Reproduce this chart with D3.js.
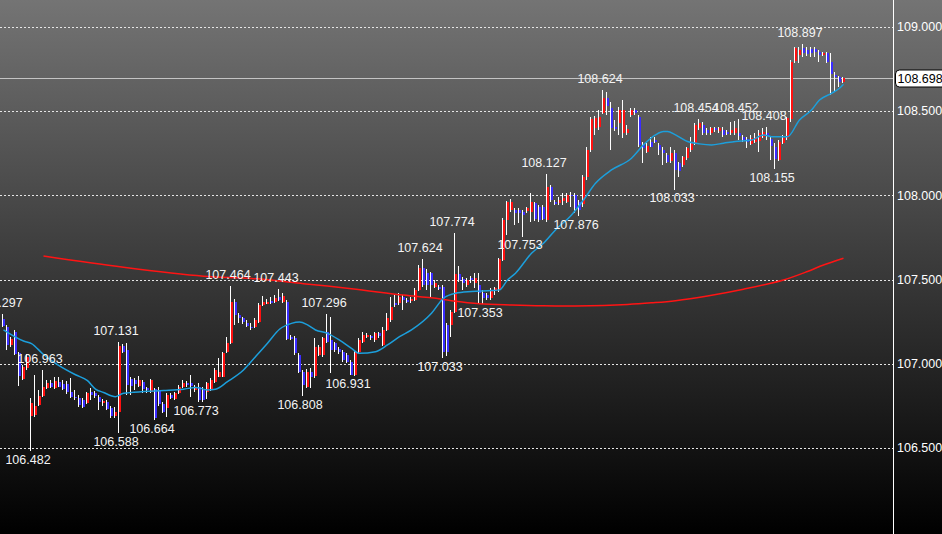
<!DOCTYPE html>
<html><head><meta charset="utf-8">
<script src="https://cdn.jsdelivr.net/npm/d3@7"></script>
<style>html,body{margin:0;padding:0;background:#000;overflow:hidden}</style>
</head><body><svg id="c" width="942" height="534"></svg>
<script>
const open=[107.264,107.221,107.112,107.191,107.062,106.910,106.973,106.690,106.696,106.756,
106.809,106.860,106.888,106.860,106.894,106.878,106.878,106.835,106.805,106.795,
106.785,106.765,106.835,106.825,106.805,106.765,106.775,106.736,106.686,106.716,
107.106,107.082,106.908,106.904,106.868,106.894,106.855,106.835,106.849,106.845,
106.762,106.736,106.815,106.789,106.825,106.860,106.884,106.888,106.845,106.860,
106.845,106.835,106.845,106.894,106.924,106.924,107.066,107.126,107.369,107.290,
107.270,107.244,107.221,107.217,107.250,107.349,107.359,107.373,107.365,107.399,
107.369,107.369,107.161,107.151,107.052,106.953,106.864,106.953,106.924,107.052,
107.052,107.191,107.141,107.122,107.086,107.072,107.052,107.013,106.934,107.072,
107.131,107.161,107.165,107.141,107.181,107.112,107.201,107.260,107.363,107.359,
107.399,107.379,107.369,107.379,107.438,107.567,107.538,107.538,107.454,107.458,
107.458,107.231,107.231,107.310,107.534,107.502,107.468,107.508,107.478,107.468,
107.419,107.409,107.389,107.429,107.439,107.617,107.854,107.914,107.914,107.914,
107.904,107.904,107.904,107.953,107.933,107.933,107.858,108.052,107.963,107.953,
107.963,107.963,108.003,108.003,107.963,107.953,108.111,108.270,108.399,108.409,
108.488,108.577,108.517,108.405,108.428,108.369,108.369,108.478,108.508,108.468,
108.300,108.260,108.320,108.329,108.300,108.270,108.240,108.201,108.250,108.191,
108.181,108.221,108.270,108.310,108.399,108.418,108.389,108.369,108.399,108.379,
108.389,108.379,108.369,108.369,108.369,108.349,108.335,108.305,108.319,108.319,
108.349,108.368,108.333,108.289,108.210,108.309,108.339,108.457,108.794,108.833,
108.873,108.863,108.867,108.867,108.853,108.833,108.847,108.794,108.715,108.705,
108.675];
const high=[107.297,107.231,107.157,107.201,107.072,106.993,107.060,106.795,106.934,106.845,
106.963,106.904,106.904,106.920,106.920,106.905,106.900,106.914,106.844,106.815,
106.795,106.835,106.854,106.840,106.815,106.790,106.785,106.750,106.746,107.131,
107.118,107.122,106.920,106.916,106.928,106.904,106.865,106.908,106.857,106.861,
106.775,106.825,106.825,106.835,106.874,106.904,106.900,106.934,106.874,106.884,
106.861,106.894,106.914,106.973,107.033,107.072,107.161,107.464,107.383,107.304,
107.280,107.260,107.240,107.270,107.359,107.403,107.383,107.395,107.409,107.443,
107.422,107.379,107.171,107.165,107.062,106.963,106.967,106.973,107.151,107.112,
107.161,107.296,107.280,107.131,107.098,107.082,107.062,107.023,107.082,107.151,
107.191,107.181,107.171,107.191,107.191,107.221,107.300,107.399,107.409,107.418,
107.409,107.389,107.399,107.448,107.585,107.624,107.561,107.547,107.498,107.468,
107.468,107.241,107.320,107.774,107.581,107.518,107.508,107.522,107.538,107.538,
107.439,107.419,107.448,107.458,107.627,107.864,107.969,107.977,107.923,107.923,
107.914,107.933,108.012,107.963,107.943,107.943,108.127,108.062,107.973,107.993,
108.012,108.012,108.022,108.012,107.973,108.121,108.290,108.468,108.472,108.508,
108.624,108.616,108.557,108.448,108.527,108.567,108.418,108.517,108.517,108.478,
108.320,108.310,108.349,108.349,108.310,108.286,108.250,108.290,108.270,108.201,
108.234,108.290,108.349,108.428,108.454,108.438,108.399,108.409,108.405,108.409,
108.409,108.389,108.438,108.440,108.452,108.359,108.345,108.358,108.368,108.388,
108.398,108.408,108.349,108.309,108.329,108.358,108.467,108.804,108.883,108.883,
108.897,108.879,108.883,108.879,108.863,108.853,108.853,108.843,108.735,108.709,
108.701];
const low=[107.217,107.082,107.102,107.052,106.868,106.904,106.963,106.482,106.686,106.750,
106.801,106.853,106.855,106.853,106.860,106.845,106.820,106.795,106.785,106.745,
106.740,106.760,106.785,106.795,106.726,106.750,106.726,106.676,106.676,106.588,
107.062,106.815,106.815,106.845,106.861,106.829,106.829,106.825,106.664,106.750,
106.706,106.686,106.789,106.785,106.821,106.855,106.860,106.805,106.835,106.773,
106.775,106.789,106.841,106.888,106.920,106.920,107.062,107.118,107.230,107.240,
107.236,107.217,107.201,107.211,107.240,107.343,107.355,107.355,107.359,107.371,
107.359,107.141,107.141,107.052,106.944,106.808,106.854,106.854,106.914,107.046,
107.042,107.122,106.944,107.072,107.058,107.013,107.003,106.931,106.928,107.062,
107.122,107.151,107.141,107.131,107.151,107.106,107.197,107.250,107.339,107.349,
107.320,107.359,107.363,107.375,107.430,107.458,107.439,107.399,107.448,107.439,
107.033,107.045,107.161,107.300,107.488,107.439,107.458,107.482,107.448,107.359,
107.353,107.379,107.379,107.409,107.429,107.613,107.765,107.904,107.824,107.834,
107.753,107.898,107.844,107.850,107.844,107.854,107.844,107.963,107.943,107.943,
107.943,107.953,107.933,107.894,107.876,107.933,108.092,108.260,108.359,108.389,
108.484,108.478,108.270,108.385,108.359,108.339,108.359,108.468,108.478,108.290,
108.191,108.250,108.286,108.310,108.240,108.181,108.191,108.191,108.033,108.112,
108.171,108.211,108.260,108.300,108.389,108.359,108.359,108.359,108.379,108.369,
108.349,108.359,108.359,108.359,108.329,108.320,108.280,108.299,108.309,108.260,
108.339,108.329,108.210,108.155,108.206,108.305,108.329,108.438,108.784,108.784,
108.824,108.828,108.824,108.824,108.794,108.828,108.784,108.596,108.616,108.645,
108.669];
const close=[107.225,107.112,107.145,107.062,106.924,106.983,107.040,106.766,106.750,106.809,
106.860,106.888,106.864,106.900,106.864,106.850,106.831,106.805,106.799,106.755,
106.746,106.825,106.815,106.805,106.775,106.779,106.736,106.690,106.712,107.106,
107.072,106.874,106.868,106.880,106.904,106.855,106.841,106.904,106.676,106.762,
106.716,106.815,106.795,106.825,106.860,106.884,106.872,106.868,106.860,106.785,
106.785,106.888,106.904,106.963,106.953,107.066,107.122,107.369,107.290,107.270,
107.244,107.225,107.217,107.260,107.349,107.369,107.369,107.363,107.389,107.379,
107.403,107.151,107.151,107.062,106.953,106.874,106.953,106.924,107.098,107.098,
107.151,107.131,107.082,107.082,107.066,107.023,107.013,106.934,107.072,107.141,
107.171,107.171,107.151,107.181,107.161,107.201,107.270,107.339,107.349,107.395,
107.379,107.369,107.383,107.438,107.570,107.468,107.468,107.468,107.478,107.448,
107.072,107.072,107.310,107.534,107.498,107.478,107.498,107.494,107.508,107.419,
107.389,107.389,107.439,107.448,107.621,107.854,107.963,107.963,107.898,107.894,
107.884,107.923,107.963,107.858,107.854,107.864,108.052,107.973,107.953,107.973,
107.983,108.003,107.997,107.923,107.914,108.111,108.270,108.452,108.458,108.468,
108.577,108.527,108.399,108.393,108.508,108.508,108.393,108.508,108.488,108.300,
108.280,108.294,108.290,108.320,108.270,108.250,108.201,108.250,108.151,108.141,
108.227,108.280,108.310,108.418,108.428,108.369,108.369,108.399,108.389,108.399,
108.359,108.369,108.389,108.399,108.349,108.329,108.315,108.339,108.349,108.368,
108.378,108.349,108.289,108.220,108.319,108.339,108.457,108.794,108.873,108.863,
108.843,108.839,108.843,108.847,108.833,108.847,108.794,108.725,108.701,108.675,
108.698];

const labelIdx=[0,7,10,29,29,38,49,57,69,75,81,87,105,110,113,120,130,136,144,150,168,174,184,191,193,200];
const labelVal=[107.297,106.482,106.963,107.131,106.588,106.664,106.773,107.464,107.443,106.808,107.296,106.931,107.624,107.033,107.774,107.353,107.753,108.127,107.876,108.624,108.033,108.454,108.452,108.408,108.155,108.897];
const labelSide=["h","l","h","h","l","l","l","h","h","l","h","l","h","l","h","l","l","h","l","h","l","h","h","h","l","h"];

const blueIdx=[0,5,7,10,13,18,21,23,25,28,30,35,40,45,48,51,53,56,60,63,66,69,72,74,76,78,81,84,87,89,93,96,99,102,107,110,113,117,122,124,126,128,132,135,138,142,145,148,152,157,160,163,165,166,168,171,174,177,180,183,187,190,192,196,199,202,204,207,209,210];
const blueVal=[107.201,107.135,107.120,107.055,107.003,106.935,106.900,106.850,106.830,106.805,106.825,106.835,106.841,106.849,106.860,106.845,106.849,106.894,106.963,107.042,107.122,107.205,107.240,107.248,107.231,107.201,107.181,107.141,107.092,107.062,107.072,107.112,107.161,107.201,107.300,107.389,107.419,107.429,107.435,107.439,107.498,107.538,107.656,107.716,107.795,107.884,107.973,108.072,108.151,108.221,108.300,108.359,108.379,108.379,108.359,108.320,108.306,108.300,108.310,108.320,108.329,108.359,108.349,108.349,108.448,108.507,108.566,108.606,108.636,108.660];

const redIdx=[10,30,50,62,75,87,100,107,112,119,127,135,143,150,156,162,168,176,185,195,201,205,210];
const redVal=[107.640,107.573,107.520,107.507,107.476,107.446,107.408,107.392,107.375,107.357,107.349,107.344,107.343,107.346,107.352,107.362,107.375,107.403,107.443,107.498,107.548,107.587,107.627];

const yTicks=[106.5,107.0,107.5,108.0,108.5,109.0];
const lastPrice=108.698;

const W=942, H=534, axisX=893;
const font='"Liberation Sans", Arial, sans-serif';
const svg=d3.select('#c');
const defs=svg.append('defs');
const grad=defs.append('linearGradient').attr('id','bg').attr('x1',0).attr('y1',0).attr('x2',0).attr('y2',1);
grad.append('stop').attr('offset','0%').attr('stop-color','#747474');
grad.append('stop').attr('offset','100%').attr('stop-color','#000000');
svg.append('rect').attr('width',W).attr('height',H).attr('fill','url(#bg)');

const x=d3.scaleLinear().domain([0,210]).range([2,842]);
const y=d3.scaleLinear().domain([106.5,109]).range([448,27]);

// grid
svg.append('g').selectAll('line').data(yTicks).join('line')
  .attr('x1',0).attr('x2',axisX)
  .attr('y1',d=>Math.round(y(d))+0.5).attr('y2',d=>Math.round(y(d))+0.5)
  .attr('stroke','#e6e6e6').attr('stroke-width',1).attr('stroke-dasharray','2,2');

// last price line
const yl=Math.round(y(lastPrice))+0.5;
svg.append('line').attr('x1',0).attr('x2',axisX).attr('y1',yl).attr('y2',yl)
  .attr('stroke','#c4c4c4').attr('stroke-width',1);

// candles
const data=open.map((o,i)=>({i,o,h:high[i],l:low[i],c:close[i]}));
const cg=svg.append('g');
const cs=cg.selectAll('g').data(data).join('g');
cs.append('rect')
  .attr('x',d=>Math.round(x(d.i)))
  .attr('width',3)
  .attr('y',d=>Math.round(y(Math.max(d.o,d.c))))
  .attr('height',d=>Math.max(1,Math.round(Math.abs(y(d.o)-y(d.c)))))
  .attr('fill',d=>d.c>=d.o?'#ff1010':'#3a2cff');
cs.append('line')
  .attr('x1',d=>Math.round(x(d.i))+0.5).attr('x2',d=>Math.round(x(d.i))+0.5)
  .attr('y1',d=>Math.round(y(d.h))).attr('y2',d=>Math.round(y(d.l)))
  .attr('stroke','#ffffff').attr('stroke-width',1);

// moving averages
const lineRed=d3.line().x(d=>x(d[0])+1.5).y(d=>y(d[1])).curve(d3.curveCatmullRom.alpha(0.5));
const lineBlue=d3.line().x(d=>x(d[0])+1.5).y(d=>y(d[1])).curve(d3.curveMonotoneX);
svg.append('path').datum(redIdx.map((k,j)=>[k,redVal[j]]))
  .attr('d',lineRed).attr('fill','none').attr('stroke','#ff1414').attr('stroke-width',1.5);
svg.append('path').datum(blueIdx.map((k,j)=>[k,blueVal[j]]))
  .attr('d',lineBlue).attr('fill','none').attr('stroke','#1c9fdc').attr('stroke-width',1.5);

// high/low labels
svg.append('g').selectAll('text').data(labelIdx.map((k,j)=>({k,v:labelVal[j],s:labelSide[j]}))).join('text')
  .attr('x',d=>x(d.k)-2)
  .attr('y',d=>d.s==='h'?y(d.v)-7:y(d.v)+12.5)
  .attr('text-anchor','middle')
  .attr('font-family',font).attr('font-size',12.5).attr('fill','#f4f4f4')
  .text(d=>d3.format('.3f')(d.v));

// right axis
svg.append('line').attr('x1',axisX+0.5).attr('x2',axisX+0.5).attr('y1',0).attr('y2',H)
  .attr('stroke','#ffffff').attr('stroke-width',1);
const ax=d3.axisRight(y).tickValues(yTicks).tickFormat(d3.format('.3f')).tickSize(0).tickPadding(4);
const axg=svg.append('g').attr('transform',`translate(${axisX},0)`).call(ax);
axg.select('.domain').remove();
axg.selectAll('text').attr('font-family',font).attr('font-size',12.5).attr('fill','#ffffff').attr('dy','0.3em');

// last price tag
svg.append('rect').attr('x',895.5).attr('y',yl-8.5).attr('width',52).attr('height',17).attr('rx',4)
  .attr('fill','#ffffff').attr('stroke','#000000').attr('stroke-width',1);
svg.append('text').attr('x',897.5).attr('y',yl).attr('dy','0.35em')
  .attr('font-family',font).attr('font-size',12.5).attr('fill','#000000')
  .text(d3.format('.3f')(lastPrice));
</script>
</body></html>
